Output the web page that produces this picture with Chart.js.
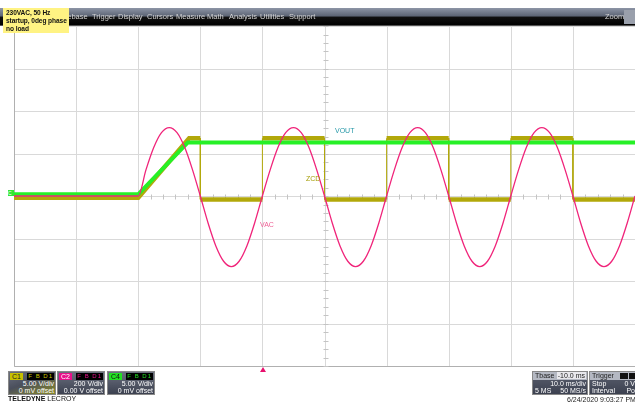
<!DOCTYPE html>
<html>
<head>
<meta charset="utf-8">
<script src="https://cdn.jsdelivr.net/npm/chart.js@4/dist/chart.umd.min.js"></script>
<style>
  html, body { margin: 0; padding: 0; background: #fff; }
  body { width: 635px; height: 405px; position: relative; overflow: hidden; font-family: "Liberation Sans", Arial, sans-serif; }
  #scope { position: absolute; left: 0; top: 0; }
  .abs { position: absolute; white-space: nowrap; }
  #menubar { left: 0; top: 8px; width: 635px; height: 18px;
    background: linear-gradient(#8d95a6 0%, #5c6474 45%, #111 50%, #000 95%, #bbb 100%); }
  .menu { top: 12px; font-size: 7.5px; color: #d4d4d4; }
  #note { left: 3px; top: 8px; width: 66px; height: 25px; background: #fff383;
    font-size: 6.6px; font-weight: bold; line-height: 8.2px; padding-left: 3px; box-sizing: border-box; padding-top: 1px; color: #111; letter-spacing: -0.08px; }
  .lbl { font-size: 7px; }
  .chbox { top: 371px; width: 48px; height: 24px; color: #fff; font-size: 7px;
    background: linear-gradient(#6a6f7e, #3c4150); box-sizing: border-box; border: 1px solid #888; }
  .chbox .tag { position: absolute; left: 1px; top: 1px; padding: 0 2px; height: 7px; line-height: 7px; font-size: 7px; }
  .chbox .ic { position: absolute; right: 1px; top: 1px; height: 7px; line-height: 7px; font-size: 6px; background: #000; padding: 0 1px; letter-spacing: 1px; }
  .chbox .r { position: absolute; right: 1px; text-align: right; }
  .info { top: 371px; height: 24px; font-size: 7px; color: #fff; box-sizing: border-box; border: 1px solid #888;
    background: linear-gradient(#5a5f6e, #3c4150); }
  .info .row1 { position: absolute; left: 0; right: 0; top: 0; height: 8px; background: #b4b8c2; color: #222; }
</style>
</head>
<body>
<canvas id="scope" width="635" height="405"></canvas>

<div id="menubar" class="abs"></div>
<div class="abs menu" style="left:55px">Timebase</div>
<div class="abs menu" style="left:92px">Trigger</div>
<div class="abs menu" style="left:118px">Display</div>
<div class="abs menu" style="left:147px">Cursors</div>
<div class="abs menu" style="left:176px">Measure</div>
<div class="abs menu" style="left:207px">Math</div>
<div class="abs menu" style="left:229px">Analysis</div>
<div class="abs menu" style="left:260px">Utilities</div>
<div class="abs menu" style="left:289px">Support</div>
<div class="abs menu" style="left:605px">Zoom</div>
<div class="abs" style="left:624px;top:10px;width:11px;height:14px;background:#9aa0ac;"></div>

<div id="note" class="abs">230VAC, 50 Hz<br>startup, 0deg phase<br>no load</div>

<div class="abs lbl" style="left:335px;top:127px;color:#2598a8;">VOUT</div>
<div class="abs lbl" style="left:306px;top:175px;color:#a39b00;">ZCD</div>
<div class="abs lbl" style="left:260px;top:221px;color:#ef5f95;">VAC</div>

<div class="abs" style="left:8px;top:190px;width:6px;height:6px;background:#33e633;font-size:5px;line-height:6px;color:#fff;">C</div>
<div class="abs" style="left:260px;top:367px;width:0;height:0;border-left:3px solid transparent;border-right:3px solid transparent;border-bottom:5px solid #e8106e;"></div>

<div class="abs chbox" style="left:8px;background:linear-gradient(160deg,#6a6f7e 0%,#4a4f5c 45%,#8a8a28 100%);">
  <span class="tag" style="background:#c8c000;color:#222;">C1</span>
  <span class="ic" style="color:#c8c000;">F B D1</span>
  <span class="r" style="top:8px;">5.00 V/div</span>
  <span class="r" style="top:15px;">0 mV offset</span>
</div>
<div class="abs chbox" style="left:57px;">
  <span class="tag" style="background:#e8108a;color:#fff;">C2</span>
  <span class="ic" style="color:#e8108a;">F B D1</span>
  <span class="r" style="top:8px;">200 V/div</span>
  <span class="r" style="top:15px;">0.00 V offset</span>
</div>
<div class="abs chbox" style="left:107px;">
  <span class="tag" style="background:#22e022;color:#111;">C4</span>
  <span class="ic" style="color:#22e022;">F B D1</span>
  <span class="r" style="top:8px;">5.00 V/div</span>
  <span class="r" style="top:15px;">0 mV offset</span>
</div>
<div class="abs" style="left:8px;top:395px;font-size:7px;color:#111;"><b>TELEDYNE</b> LECROY</div>

<div class="abs info" style="left:532px;width:56px;">
  <div class="row1"><span style="position:absolute;left:2px;">Tbase</span><span style="position:absolute;right:1px;background:#e8e8ec;padding:0 1px;">-10.0 ms</span></div>
  <span style="position:absolute;right:1px;top:8px;">10.0 ms/div</span>
  <span style="position:absolute;left:2px;top:15px;">5 MS</span>
  <span style="position:absolute;right:1px;top:15px;">50 MS/s</span>
</div>
<div class="abs info" style="left:589px;width:46px;border-right:none;">
  <div class="row1"><span style="position:absolute;left:2px;">Trigger</span><span style="position:absolute;left:30px;top:1px;width:8px;height:6px;background:#111;"></span><span style="position:absolute;left:39px;top:1px;width:8px;height:6px;background:#111;"></span></div>
  <span style="position:absolute;left:2px;top:8px;">Stop</span>
  <span style="position:absolute;right:0;top:8px;">0 V</span>
  <span style="position:absolute;left:2px;top:15px;">Interval</span>
  <span style="position:absolute;right:0;top:15px;">Po</span>
</div>
<div class="abs" style="left:567px;top:396px;font-size:7px;color:#222;">6/24/2020 9:03:27 PM</div>

<script>
// time in ms relative to trigger, 10 ms/div
const xMin = -40;
const xMax = 60;

// C1 ZCD (5 V/div)
const zcdTime  = [-40, -20, -11.8, -10, -10, 0, 0, 10, 10, 20, 20, 30, 30, 40, 40, 50, 50, 60];
const zcdVolts = [-0.2, -0.2, 6.8, 6.8, -0.4, -0.4, 6.8, 6.8, -0.4, -0.4, 6.8, 6.8, -0.4, -0.4, 6.8, 6.8, -0.4, -0.4];

// C4 VOUT (5 V/div)
const voutTime  = [-40, -20, -12, 60];
const voutVolts = [0.2, 0.2, 6.3, 6.3];

// C2 VAC (200 V/div), read every 1.25 ms
const vacTime = [-40,
  -20, -18.75, -17.5, -16.25, -15, -13.75, -12.5, -11.25, -10, -8.75, -7.5, -6.25, -5, -3.75, -2.5, -1.25,
  0, 1.25, 2.5, 3.75, 5, 6.25, 7.5, 8.75, 10, 11.25, 12.5, 13.75, 15, 16.25, 17.5, 18.75,
  20, 21.25, 22.5, 23.75, 25, 26.25, 27.5, 28.75, 30, 31.25, 32.5, 33.75, 35, 36.25, 37.5, 38.75,
  40, 41.25, 42.5, 43.75, 45, 46.25, 47.5, 48.75, 50, 51.25, 52.5, 53.75, 55, 56.25, 57.5, 58.75, 60];
const vacVolts = [0,
  0, 123, 228, 298, 322, 298, 228, 123, 0, -127, -235, -307, -332, -307, -235, -127,
  0, 123, 228, 298, 322, 298, 228, 123, 0, -127, -235, -307, -332, -307, -235, -127,
  0, 123, 228, 298, 322, 298, 228, 123, 0, -127, -235, -307, -332, -307, -235, -127,
  0, 123, 228, 298, 322, 298, 228, 123, 0, -127, -235, -307, -332, -307, -235, -127, 0];

const toPoints = (t, v) => t.map((x, i) => ({ x: x, y: v[i] }));

// scope graticule: 10 x 8 divisions, center cross with minor ticks
const graticule = {
  id: 'graticule',
  beforeDatasetsDraw(chart) {
    const ctx = chart.ctx;
    const x = chart.scales.x;
    const y = chart.scales.yZcd;
    const a = chart.chartArea;
    ctx.save();
    ctx.strokeStyle = '#d9d9d9';
    ctx.lineWidth = 1;
    for (let t = xMin; t <= xMax; t += 10) {
      const px = Math.round(x.getPixelForValue(t)) + 0.5;
      ctx.beginPath(); ctx.moveTo(px, a.top); ctx.lineTo(px, a.bottom); ctx.stroke();
    }
    for (let v = -20; v <= 20; v += 5) {
      const py = Math.round(y.getPixelForValue(v)) + 0.5;
      ctx.beginPath(); ctx.moveTo(a.left, py); ctx.lineTo(a.right, py); ctx.stroke();
    }
    // border
    ctx.strokeStyle = '#b0b0b0';
    const lx = Math.round(a.left) + 0.5, by = Math.round(a.bottom) + 0.5;
    ctx.beginPath(); ctx.moveTo(lx, a.top); ctx.lineTo(lx, by); ctx.lineTo(a.right, by); ctx.stroke();
    // center ticks
    ctx.strokeStyle = '#c4c4c4';
    const cx = Math.round(x.getPixelForValue(10)) + 0.5;
    const cy = Math.round(y.getPixelForValue(0)) + 0.5;
    for (let t = xMin; t <= xMax; t += 2) {
      const px = Math.round(x.getPixelForValue(t)) + 0.5;
      ctx.beginPath(); ctx.moveTo(px, cy - 2); ctx.lineTo(px, cy + 3); ctx.stroke();
    }
    for (let v = -20; v <= 20; v += 1) {
      const py = Math.round(y.getPixelForValue(v)) + 0.5;
      ctx.beginPath(); ctx.moveTo(cx - 2, py); ctx.lineTo(cx + 3, py); ctx.stroke();
    }
    ctx.restore();
  }
};

// thin edges where the trace jumps, thick noisy band elsewhere
const edgeWidth = (thick) => (c) => (c.p0.parsed.x === c.p1.parsed.x ? 1 : thick);

new Chart(document.getElementById('scope').getContext('2d'), {
  type: 'line',
  data: {
    datasets: [
      {
        label: 'VAC',
        data: toPoints(vacTime, vacVolts),
        yAxisID: 'yVac',
        borderColor: '#f0247a',
        borderWidth: 1.3,
        cubicInterpolationMode: 'monotone'
      },
      {
        label: 'VOUT',
        data: toPoints(voutTime, voutVolts),
        yAxisID: 'yVout',
        borderColor: '#26f026',
        borderWidth: 4
      },
      {
        label: 'ZCD',
        data: toPoints(zcdTime, zcdVolts),
        yAxisID: 'yZcd',
        borderColor: '#b2a80a',
        borderWidth: 4.5,
        segment: { borderWidth: edgeWidth(4.5) }
      }
    ]
  },
  options: {
    responsive: false,
    animation: false,
    devicePixelRatio: 1,
    layout: { padding: { left: 14, top: 26, right: 0, bottom: 39 } },
    elements: { point: { radius: 0 }, line: { tension: 0, borderJoinStyle: 'miter', borderCapStyle: 'butt' } },
    plugins: { legend: { display: false }, tooltip: { enabled: false } },
    scales: {
      x: { type: 'linear', min: xMin, max: xMax, display: false },
      yZcd: { type: 'linear', min: -20, max: 20, display: false },
      yVout: { type: 'linear', min: -20, max: 20, display: false },
      yVac: { type: 'linear', min: -800, max: 800, display: false }
    }
  },
  plugins: [graticule]
});
</script>
</body>
</html>
